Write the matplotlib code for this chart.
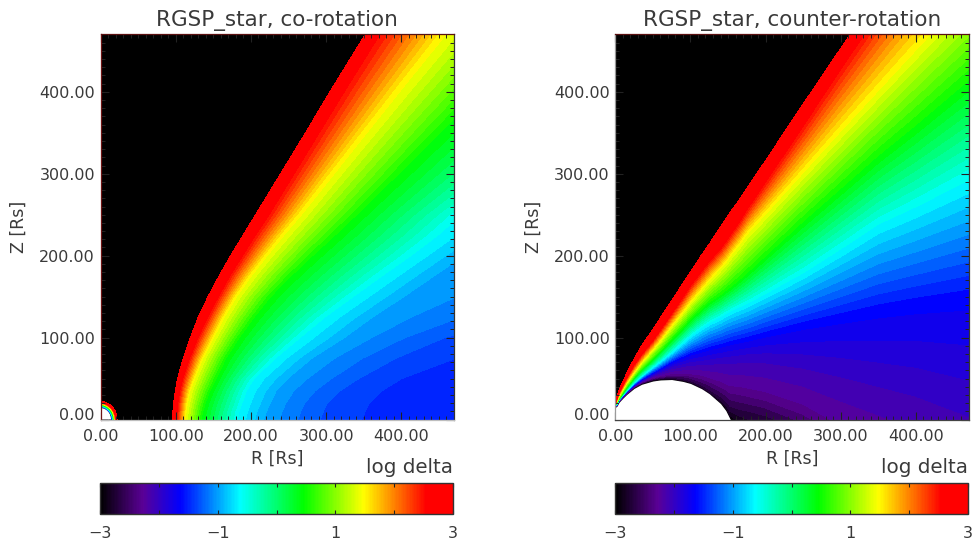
import numpy as np
import matplotlib
matplotlib.use("Agg")
import matplotlib.pyplot as plt
from matplotlib.cm import ScalarMappable
from matplotlib.colors import LinearSegmentedColormap, Normalize
from matplotlib.patches import Wedge
from matplotlib.ticker import MultipleLocator
from matplotlib.transforms import ScaledTranslation

# log delta values of the curves
levels = [3.0, 2.55, 1.48, 0.46, -0.62, -1.0, -1.3, -1.5, -1.55]

# left panel: R [Rs] of each curve at a given Z [Rs]
left_z = [0, 10, 20, 35, 50, 75, 100, 125, 150, 175, 200, 225, 250, 300, 350, 400, 470]
left_r = [
    [95.8, 101, 112, 134, 183, 221, 283, 375, 2500],
    [96.3, 101.5, 113, 136.6, 185, 225, 287, 380, 2500],
    [97.2, 102.5, 114.5, 139.6, 189, 230, 292, 385, 2500],
    [99.5, 105, 118, 146, 195, 238, 309, 402, 2500],
    [102.5, 109, 124, 154, 205, 254, 334, 429, 2500],
    [110, 118, 135, 167.5, 234, 287, 380, 513, 2500],
    [119.5, 129, 149, 185, 267, 331, 442, 601, 2500],
    [130, 142, 163, 205, 300, 369, 535, 690, 2500],
    [143, 156, 179, 227, 338, 411, 646, 778, 2500],
    [157.5, 171, 198, 254, 376, 451, 734, 867, 2500],
    [173, 188, 219, 283, 415, 491, 823, 955, 2500],
    [189.6, 205, 241, 313, 451, 535, 889, 1044, 2500],
    [206.2, 223, 264, 342, 482, 579, 955, 1133, 2500],
    [239.4, 256, 307, 398, 562, 690, 1050, 1250, 2500],
    [272.6, 289, 350, 453, 637, 800, 1155, 1375, 2500],
    [305, 322, 393, 508, 712, 911, 1288, 1553, 2500],
    [352, 369, 454, 584, 823, 1066, 1465, 1775, 2500],
]

# small rings in the corner of the left panel
ring_levels = [3.0, 2.55, 1.48, 0.46, -0.62, -1.64]
ring_radii = [22, 20.5, 19, 17.7, 16.3, 15.2]
ring_angles = [0, 15, 30, 45, 60, 75, 90]
ring_hole = 14

# right panel: Z [Rs] of each curve at a given R [Rs]
right_levels = [3.0, 2.55, 1.48, 0.46, -0.62, -1.64, -2.0, -2.3, -2.7, -3.0]
right_r = [0, 2, 5, 10, 15, 25, 35, 50, 60, 75, 90, 100, 115, 125, 140, 147, 153, 165, 175, 200, 250, 300, 350, 400, 470]
right_edge = [20, 27, 36, 46, 56, 74, 90, 110, 124, 145, 166, 180, 201, 214, 235, 245, 253, 268, 282, 316, 385, 453, 521, 589, 685]
right_red = [19, 25, 33, 42, 51, 67, 80, 97, 110, 130, 150, 164, 182, 194, 209, 218, 226, 242, 257, 291, 360, 430, 498, 567, 663]
right_yellow = [18, 22, 29, 37, 45, 58, 70, 86, 97, 115, 132, 144, 160, 171, 186, 193, 201, 215, 228, 253, 304, 355, 405, 455, 525]
right_green = [17.5, 20, 25, 32, 39, 51, 61, 74, 83, 98, 112, 122, 135, 143, 152, 157, 161, 170, 178, 199, 241, 281, 321, 358, 412]
right_cyan = [17, 18.5, 24, 29.5, 35, 45, 53, 64, 71, 82, 94, 102, 112, 118, 125, 129, 132, 137, 141, 153, 178, 207, 237, 258, 290]
right_blue = [16.5, 17.5, 23, 28.5, 33.5, 42, 49, 57, 62, 70, 76, 80, 84, 87, 90, 92, 93.5, 96, 98, 104, 115, 124, 133, 140, 148]
right_indigo = [16.3, 17, 22.5, 28, 33, 41, 47, 54, 58, 63, 66, 68, 69, 70, 72, 72.5, 73, 74, 75, 75, 70, 62, 52, 42, 20]
right_purple = [16.2, 16.6, 22, 27.5, 32, 40, 45.5, 51, 53, 55.5, 56, 55, 53, 50, 45, 42, 39, 38, 36, 31, 15, -12, -35, -60, -100]
right_dark = [16.1, 16.3, 21.5, 26.5, 31, 39, 44, 48.5, 50, 50.5, 49, 46.5, 40, 34.5, 25, 19, 12, 8, 6, 0, -20, -45, -70, -95, -130]
right_white = [15, 16, 21, 26, 30.5, 38, 43, 47, 48.3, 48.8, 46.5, 44, 37.5, 31.5, 19.5, 11, 0, -10, -20, -30, -50, -70, -90, -110, -150]

# colour bar anchors
cmap_pos = [0.0, 0.12, 0.227, 0.397, 0.577, 0.747, 0.925, 1.0]
cmap_colors = ["#000000", "#5a0096", "#0000ff", "#00ffff", "#00ff00", "#ffff00", "#ff0000", "#ff0000"]

titles = ["RGSP_star, co-rotation", "RGSP_star, counter-rotation"]
axis_ticks = [0, 100, 200, 300, 400]
axis_labels = ["0.00", "100.00", "200.00", "300.00", "400.00"]
bar_ticks = [-3, -2, -1, 0, 1, 2, 3]
bar_labels = ["\u22123", "", "\u22121", "", "1", "", "3"]

W, H = 973, 544
TEXT = "#3a3a3a"

cmap = LinearSegmentedColormap.from_list("rainbow_idl", list(zip(cmap_pos, cmap_colors)), N=256)
fill_levels = np.linspace(-3, 3, 51)


def px_axes(fig, left, right, top, bottom):
    return fig.add_axes([left / W, 1 - bottom / H, (right - left) / W, (bottom - top) / H])


def style_panel(fig, ax, title, spine_colors):
    ax.set_facecolor("black")
    ax.set_xlim(0, 470)
    ax.set_ylim(0, 470)
    ax.set_xticks(axis_ticks, axis_labels)
    ax.set_yticks(axis_ticks, axis_labels)
    ax.xaxis.set_minor_locator(MultipleLocator(10))
    ax.yaxis.set_minor_locator(MultipleLocator(10))
    ax.tick_params(which="major", direction="in", length=5.5, width=0.8, top=True, right=True,
                   color="#222222", labelcolor=TEXT, labelsize=11.5)
    ax.tick_params(which="minor", direction="in", length=2.8, width=0.7, top=True, right=True,
                   color="#222222")
    ax.tick_params(axis="x", which="major", pad=7)
    ax.tick_params(axis="y", which="major", pad=4)
    zero = ax.get_yticklabels()[0]
    zero.set_transform(zero.get_transform() + ScaledTranslation(0, 6 / 100, fig.dpi_scale_trans))
    for side, color in spine_colors.items():
        ax.spines[side].set_color(color)
        ax.spines[side].set_linewidth(0.9)
    ax.set_title(title, fontsize=15.5, color=TEXT, pad=6)
    ax.set_xlabel("R [Rs]", fontsize=12.5, color=TEXT, va="center")
    ax.set_ylabel("Z [Rs]", fontsize=12.5, color=TEXT, va="center")
    ax.xaxis.set_label_coords(0.5, -0.1026)
    ax.yaxis.set_label_coords(-0.23, 0.5)


def draw_bar(fig, left, right):
    cax = px_axes(fig, left, right, 482.5, 514)
    bar = fig.colorbar(ScalarMappable(norm=Normalize(-3, 3), cmap=cmap), cax=cax, orientation="horizontal")
    bar.set_ticks(bar_ticks, labels=bar_labels)
    bar.ax.tick_params(direction="in", length=3, width=0.8, top=True, color="#222222",
                       labelcolor=TEXT, labelsize=11.5, pad=9)
    bar.outline.set_linewidth(1.0)
    bar.outline.set_edgecolor("#333333")
    fig.text(right / W, 1 - 473 / H, "log delta", ha="right", va="baseline", fontsize=14.3, color=TEXT)


fig = plt.figure(figsize=(W / 100, H / 100), dpi=100)
norm = Normalize(-3, 3)

# left panel
ax1 = px_axes(fig, 100.5, 454, 34.5, 419.5)
r_grid = np.array(left_r, dtype=float)
z_grid = np.repeat(np.array(left_z, dtype=float)[:, None], len(levels), axis=1)
v_grid = np.tile(np.array(levels), (len(left_z), 1))
ax1.contourf(r_grid, z_grid, v_grid, levels=fill_levels, cmap=cmap, norm=norm, antialiased=False)

theta = np.radians(ring_angles)
ring_x = np.outer(np.cos(theta), ring_radii)
ring_y = np.outer(np.sin(theta), ring_radii)
ring_v = np.tile(np.array(ring_levels), (len(ring_angles), 1))
ax1.contourf(ring_x, ring_y, ring_v, levels=fill_levels, cmap=cmap, norm=norm, antialiased=False)
ax1.add_patch(Wedge((0, 0), ring_hole, 0, 90, facecolor="white", edgecolor="none", zorder=2))
style_panel(fig, ax1, titles[0], {"left": "#6e1414", "top": "#5a1010", "bottom": "#bdbdbd", "right": "#333333"})
draw_bar(fig, 100, 453)

# right panel
ax2 = px_axes(fig, 615.3, 968.5, 34.5, 419.5)
right_table = np.array([right_edge, right_red, right_yellow, right_green, right_cyan, right_blue,
                        right_indigo, right_purple, right_dark, right_white], dtype=float)
r2_grid = np.tile(np.array(right_r, dtype=float), (len(right_levels), 1))
v2_grid = np.repeat(np.array(right_levels)[:, None], len(right_r), axis=1)
ax2.contourf(r2_grid, right_table, v2_grid, levels=fill_levels, cmap=cmap, norm=norm, antialiased=False)
ax2.fill_between(right_r, 0, np.clip(right_white, 0, None), color="white", lw=0, zorder=2)
style_panel(fig, ax2, titles[1], {"left": "#9a9a9a", "top": "#5a1010", "bottom": "#444444", "right": "#333333"})
draw_bar(fig, 615, 968)

fig.savefig("out.png", dpi=100)
